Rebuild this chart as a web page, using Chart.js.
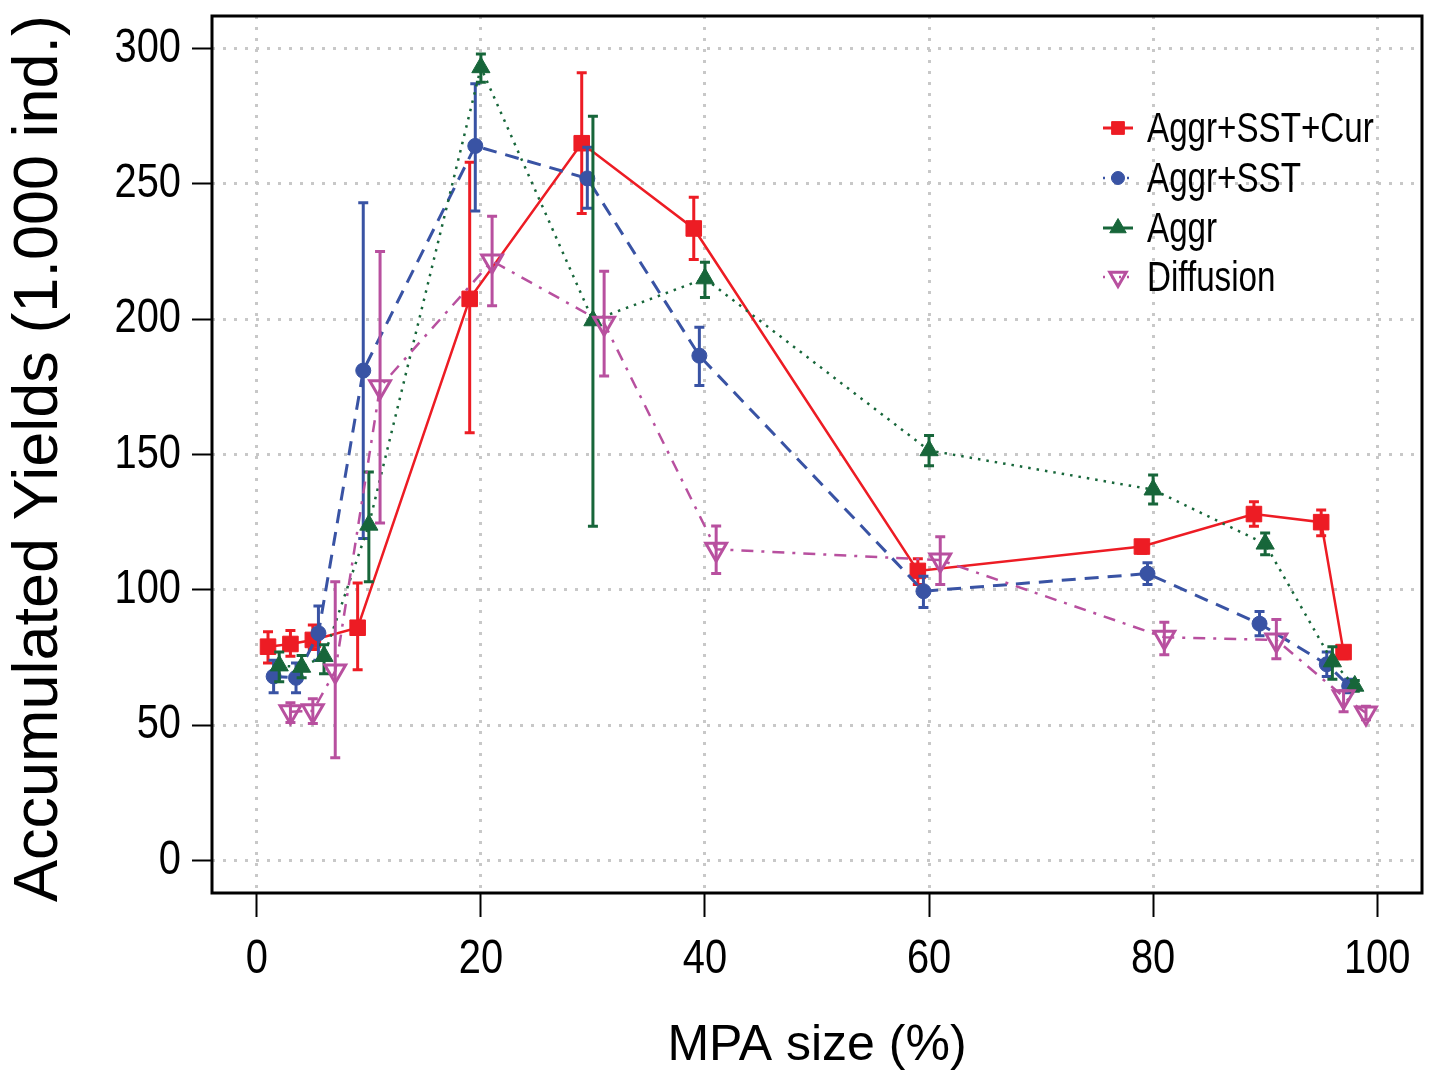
<!DOCTYPE html>
<html><head><meta charset="utf-8">
<script src="https://cdn.jsdelivr.net/npm/chart.js@4/dist/chart.umd.min.js"></script>
<style>html,body{margin:0;padding:0;background:#fff;}canvas{display:block;}</style>
</head><body>
<canvas id="c" width="1437" height="1078"></canvas>
<script>
// ---- data ----
const seriesNames = ["Aggr+SST+Cur", "Aggr+SST", "Aggr", "Diffusion"];
const xTicks = [0, 20, 40, 60, 80, 100];
const yTicks = [0, 50, 100, 150, 200, 250, 300];
const xTitle = "MPA size (%)";
const yTitle = "Accumulated Yields (1.000 ind.)";

const xAggrSSTCur  = [1, 3, 5, 9, 19, 29, 39, 59, 79, 89, 95, 97];
const yAggrSSTCur  = [79, 80, 81.5, 86, 207.5, 265, 233.5, 107, 116, 128, 125, 77];
const loAggrSSTCur = [73, 75.5, 78, 70.5, 158, 239, 222, 102, 113.5, 123.5, 120, 74.5];
const hiAggrSSTCur = [84.5, 85, 87, 102.5, 258, 291, 245, 111.5, 118, 132.5, 129.5, 79];

const xAggrSST  = [1.5, 3.5, 5.5, 9.5, 19.5, 29.5, 39.5, 59.5, 79.5, 89.5, 95.5, 97.5];
const yAggrSST  = [68, 67.5, 84, 181, 264, 252, 186.5, 99.5, 106, 87.5, 72.5, 64.5];
const loAggrSST = [62, 62, 74, 119, 240, 241, 175.5, 93.5, 102, 83, 68, 62];
const hiAggrSST = [74, 73, 94, 243, 287, 263.5, 197, 105, 110, 92, 77, 67];

const xAggr  = [2, 4, 6, 10, 20, 30, 40, 60, 80, 90, 96, 98];
const yAggr  = [72, 71.5, 75.5, 124, 293, 199.5, 215, 151.5, 137, 117, 73.5, 64.5];
const loAggr = [66, 67.5, 69, 103, 287.5, 123.5, 208, 145.8, 131.7, 113, 67, 62.5];
const hiAggr = [77, 75.7, 79.7, 143.5, 298, 275, 221, 157, 142.4, 121, 79, 66.5];

const xDiff  = [3, 5, 7, 11, 21, 31, 41, 61, 81, 91, 97, 99];
const yDiff  = [55, 55.3, 70, 175, 221.5, 198.5, 115, 111, 82.5, 81.5, 60.5, 54.5];
const loDiff = [51, 50.6, 38, 124.7, 205, 179, 106, 102, 76, 74.5, 55, 52];
const hiDiff = [58.3, 59.8, 103, 225, 238, 217.7, 123.6, 119.6, 88, 89, 62.7, 57];

// ---- styles ----
const colRed = "#ED1C24", colBlue = "#3953A4", colGreen = "#17663A", colMag = "#B8509F";
const normalFont = "'Liberation Sans', Arial, sans-serif";

const series = [
  {x: xAggrSSTCur, y: yAggrSSTCur, lo: loAggrSSTCur, hi: hiAggrSSTCur, color: colRed},
  {x: xAggrSST, y: yAggrSST, lo: loAggrSST, hi: hiAggrSST, color: colBlue},
  {x: xAggr, y: yAggr, lo: loAggr, hi: hiAggr, color: colGreen},
  {x: xDiff, y: yDiff, lo: loDiff, hi: hiDiff, color: colMag}
];
const pts = (xs, ys) => xs.map((v, i) => ({x: v, y: ys[i]}));

const lineStyles = [
  {dash: [], width: 2.5, pointStyle: 'rect', radius: 11, rot: 0, fill: colRed, bw: 1},
  {dash: [14, 9], width: 3, pointStyle: 'circle', radius: 7.5, rot: 0, fill: colBlue, bw: 1},
  {dash: [2.5, 6], width: 2.5, pointStyle: 'triangle', radius: 10.5, rot: 0, fill: colGreen, bw: 1},
  {dash: [12, 8, 3, 8], width: 2.5, pointStyle: 'triangle', radius: 12, rot: 180, fill: 'rgba(0,0,0,0)', bw: 3}
];

const datasets = series.map((s, i) => ({
  label: seriesNames[i],
  data: pts(s.x, s.y),
  borderColor: s.color,
  borderWidth: lineStyles[i].width,
  borderDash: lineStyles[i].dash,
  borderCapStyle: 'butt',
  tension: 0,
  fill: false,
  pointStyle: lineStyles[i].pointStyle,
  pointRadius: lineStyles[i].radius,
  pointRotation: lineStyles[i].rot,
  pointBackgroundColor: lineStyles[i].fill,
  pointBorderColor: s.color,
  pointBorderWidth: lineStyles[i].bw,
  order: 4 - i
}));

// horizontally condensed text helper
function condText(ctx, text, x, y, sx, align, baseline) {
  ctx.save();
  ctx.translate(x, y);
  ctx.scale(sx, 1);
  ctx.textAlign = align; ctx.textBaseline = baseline;
  ctx.fillText(text, 0, 0);
  ctx.restore();
}

// ---- plugins ----
const errorBars = {
  id: 'errorBars',
  beforeDatasetDraw(chart, args) {
    const s = series[args.index];
    const ctx = chart.ctx, xs = chart.scales.x, ys = chart.scales.y;
    ctx.save();
    ctx.strokeStyle = s.color; ctx.lineWidth = 3; ctx.setLineDash([]); ctx.lineCap = 'butt';
    s.x.forEach((xv, k) => {
      const px = xs.getPixelForValue(xv);
      const pl = ys.getPixelForValue(s.lo[k]), ph = ys.getPixelForValue(s.hi[k]);
      ctx.beginPath();
      ctx.moveTo(px, pl); ctx.lineTo(px, ph);
      ctx.moveTo(px - 5, pl); ctx.lineTo(px + 5, pl);
      ctx.moveTo(px - 5, ph); ctx.lineTo(px + 5, ph);
      ctx.stroke();
    });
    ctx.restore();
  }
};

const frame = {
  id: 'frame',
  beforeDatasetsDraw(chart) {
    const {ctx, chartArea: a} = chart;
    ctx.save();
    ctx.strokeStyle = '#000'; ctx.lineWidth = 3; ctx.setLineDash([]);
    ctx.strokeRect(a.left, a.top, a.right - a.left, a.bottom - a.top);
    ctx.restore();
  },
  afterDraw(chart) {
    const {ctx, chartArea: a} = chart;
    const xs = chart.scales.x, ys = chart.scales.y;
    ctx.save();
    ctx.fillStyle = '#000';
    // tick labels
    ctx.font = "48px " + normalFont;
    xTicks.forEach(v => condText(ctx, String(v), xs.getPixelForValue(v), 960, 0.83, 'center', 'middle'));
    yTicks.forEach(v => condText(ctx, String(v), 181, ys.getPixelForValue(v), 0.83, 'right', 'middle'));
    // x title
    ctx.font = "50px " + normalFont;
    ctx.textAlign = 'center'; ctx.textBaseline = 'alphabetic';
    ctx.fillText(xTitle, (a.left + a.right) / 2, 1060);
    // y title
    ctx.translate(57, (a.top + a.bottom) / 2 + 4);
    ctx.rotate(-Math.PI / 2);
    ctx.font = "63px " + normalFont;
    ctx.fillText(yTitle, 0, 0);
    ctx.restore();

    // legend
    const lx0 = 1103, lx1 = 1133, tx = 1147;
    const rows = [128, 178, 228, 277];
    const legLine = [
      {dash: [], w: 3}, {dash: [2, 6], w: 2.5}, {dash: [], w: 3}, {dash: [2, 6], w: 2.5}
    ];
    const legPt = [
      {pointStyle: 'rect', radius: 9, rotation: 0},
      {pointStyle: 'circle', radius: 6.5, rotation: 0},
      {pointStyle: 'triangle', radius: 9.5, rotation: 0},
      {pointStyle: 'triangle', radius: 9.5, rotation: 180}
    ];
    seriesNames.forEach((name, i) => {
      const y = rows[i], c = series[i].color;
      ctx.save();
      ctx.strokeStyle = c; ctx.lineWidth = legLine[i].w; ctx.setLineDash(legLine[i].dash);
      ctx.beginPath(); ctx.moveTo(lx0, y); ctx.lineTo(lx1, y); ctx.stroke();
      ctx.setLineDash([]);
      ctx.fillStyle = i === 3 ? 'rgba(0,0,0,0)' : c;
      ctx.lineWidth = i === 3 ? 3 : 1;
      Chart.helpers.drawPoint(ctx, Object.assign({borderWidth: ctx.lineWidth}, legPt[i]), (lx0 + lx1) / 2, y);
      ctx.fillStyle = '#000';
      ctx.font = "42px " + normalFont;
      condText(ctx, name, tx, y + 2, 0.79, 'left', 'middle');
      ctx.restore();
    });
  }
};

const chart = new Chart(document.getElementById('c'), {
  type: 'line',
  data: {datasets},
  options: {
    responsive: false,
    animation: false,
    devicePixelRatio: 1,
    layout: {padding: {top: 16, right: 7, left: 0, bottom: 0}},
    plugins: {legend: {display: false}, tooltip: {enabled: false}, title: {display: false}},
    scales: {
      x: {
        type: 'linear', min: -4, max: 104,
        afterBuildTicks: s => { s.ticks = xTicks.map(v => ({value: v})); },
        afterFit: s => { s.height = 185; s.paddingLeft = 0; s.paddingRight = 0; },
        ticks: {display: false},
        grid: {color: '#c8c8c8', lineWidth: 3, drawTicks: true, tickLength: 24, tickColor: '#000', tickWidth: 2, tickBorderDash: []},
        border: {display: false, dash: [3, 8]}
      },
      y: {
        type: 'linear', min: -12, max: 312,
        afterBuildTicks: s => { s.ticks = yTicks.map(v => ({value: v})); },
        afterFit: s => { s.width = 212; s.paddingTop = 0; s.paddingBottom = 0; },
        ticks: {display: false},
        grid: {color: '#c8c8c8', lineWidth: 3, drawTicks: true, tickLength: 20, tickColor: '#000', tickWidth: 2, tickBorderDash: []},
        border: {display: false, dash: [3, 8]}
      }
    }
  },
  plugins: [errorBars, frame]
});
</script>
</body></html>
